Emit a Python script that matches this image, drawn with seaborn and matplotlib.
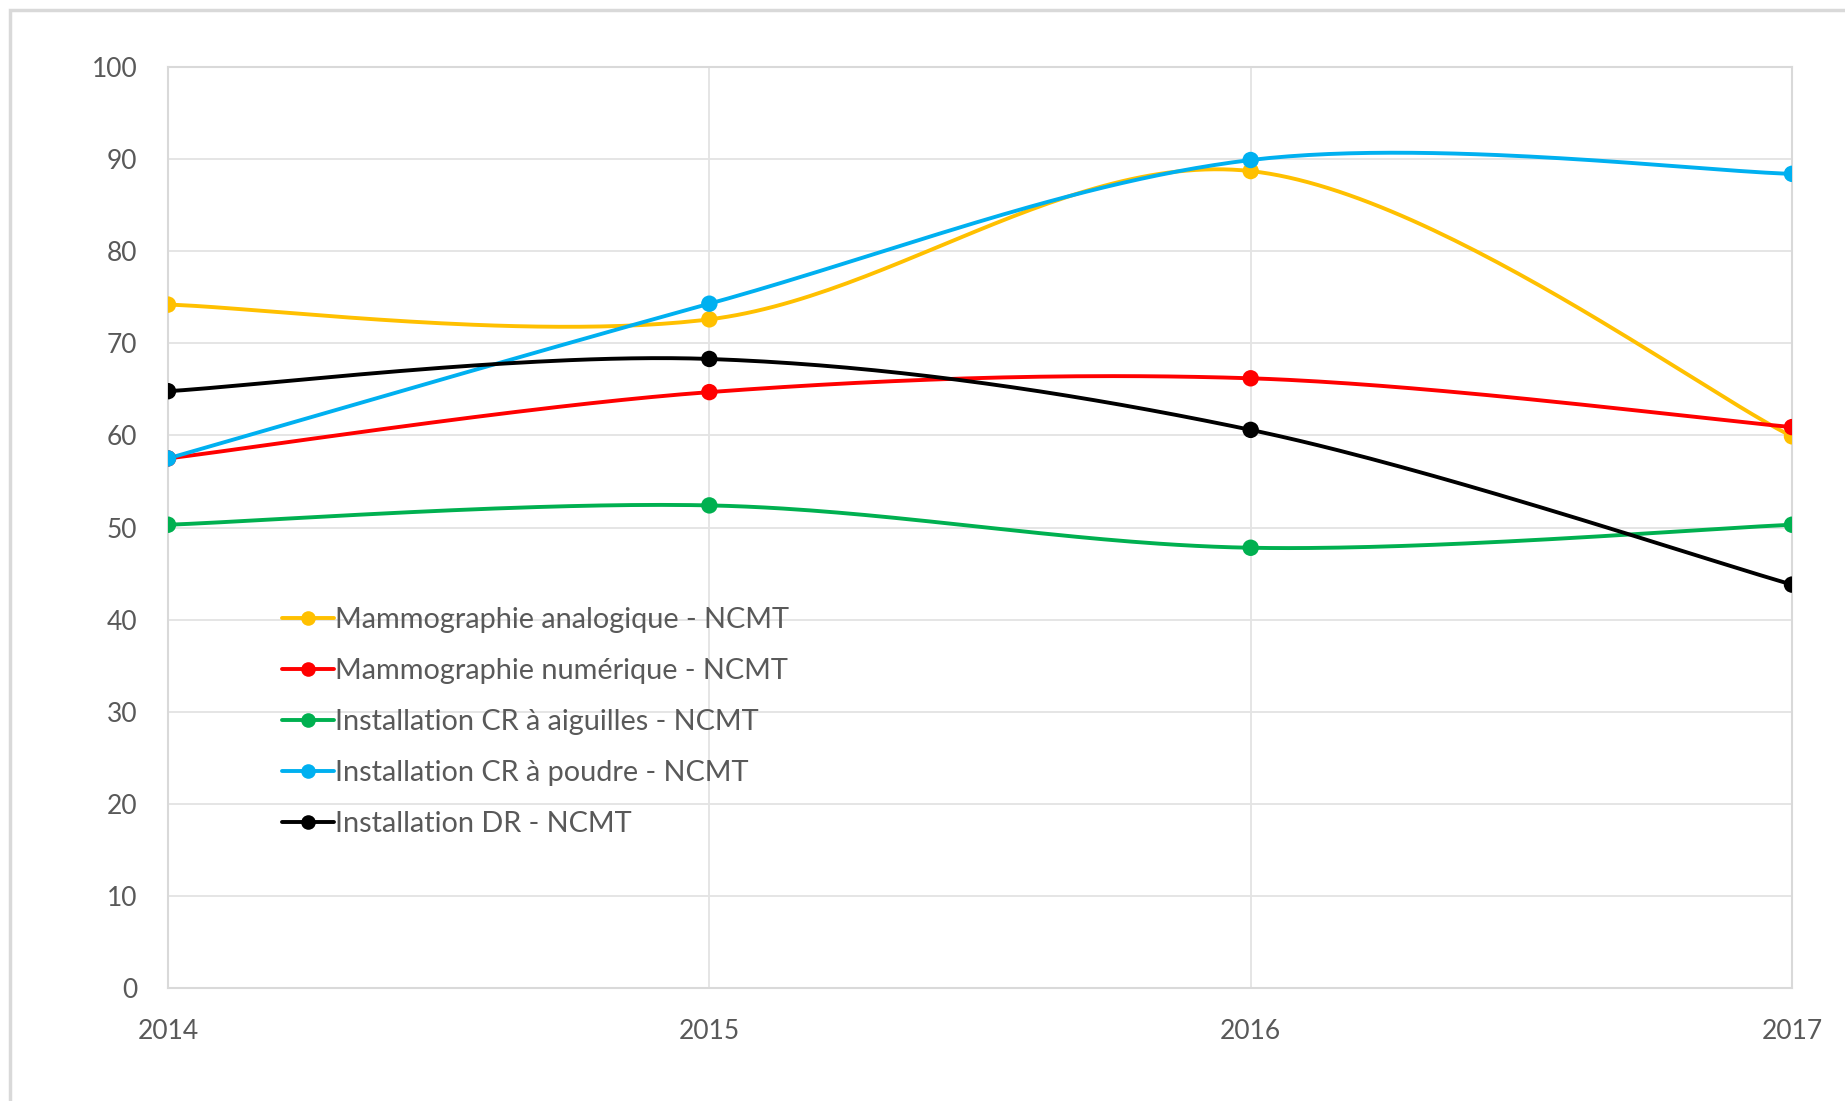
import numpy as np
import pandas as pd
import matplotlib
matplotlib.use("Agg")
import matplotlib.pyplot as plt
from matplotlib.lines import Line2D
from matplotlib.patches import Rectangle
import seaborn as sns

years = [2014, 2015, 2016, 2017]
series_names = [
    "Mammographie analogique - NCMT",
    "Mammographie numérique - NCMT",
    "Installation CR à aiguilles - NCMT",
    "Installation CR à poudre - NCMT",
    "Installation DR - NCMT",
]
mammo_analogique = [74.2, 72.6, 88.7, 59.9]
mammo_numerique = [57.5, 64.7, 66.2, 60.9]
cr_aiguilles = [50.3, 52.4, 47.8, 50.3]
cr_poudre = [57.5, 74.3, 89.9, 88.4]
installation_dr = [64.8, 68.3, 60.6, 43.8]
colors = ["#FFC000", "#FF0000", "#00B050", "#00B0F0", "#000000"]
y_ticks = list(range(0, 101, 10))

all_values = [mammo_analogique, mammo_numerique, cr_aiguilles, cr_poudre, installation_dr]


def smooth_curve(xs, ys, n=60):
    """Bezier smoothing through every point (Catmull-Rom style control points)."""
    xs = np.asarray(xs, float)
    ys = np.asarray(ys, float)
    px = np.concatenate([[xs[0]], xs, [xs[-1]]])
    py = np.concatenate([[ys[0]], ys, [ys[-1]]])
    out_x, out_y = [], []
    t = np.linspace(0, 1, n)
    for i in range(1, len(px) - 2):
        p0 = np.array([px[i - 1], py[i - 1]])
        p1 = np.array([px[i], py[i]])
        p2 = np.array([px[i + 1], py[i + 1]])
        p3 = np.array([px[i + 2], py[i + 2]])
        c1 = p1 + (p2 - p0) / 6.0
        c2 = p2 - (p3 - p1) / 6.0
        b = ((1 - t) ** 3)[:, None] * p1 + (3 * (1 - t) ** 2 * t)[:, None] * c1 \
            + (3 * (1 - t) * t ** 2)[:, None] * c2 + (t ** 3)[:, None] * p2
        if i > 1:
            b = b[1:]
        out_x.extend(b[:, 0])
        out_y.extend(b[:, 1])
    return np.array(out_x), np.array(out_y)


curve_rows = []
point_rows = []
for name, vals in zip(series_names, all_values):
    cx, cy = smooth_curve(years, vals)
    for order, (a, b) in enumerate(zip(cx, cy)):
        curve_rows.append({"serie": name, "annee": a, "valeur": b, "ordre": order})
    for a, b in zip(years, vals):
        point_rows.append({"serie": name, "annee": a, "valeur": b})
curves = pd.DataFrame(curve_rows)
points = pd.DataFrame(point_rows)

sns.set_theme(style="white")
plt.rcParams["font.family"] = ["Lato", "DejaVu Sans"]
palette = dict(zip(series_names, colors))

fig = plt.figure(figsize=(18.45, 11.01), dpi=100)
ax = fig.add_axes([168 / 1845, 1 - 988 / 1101, (1792 - 168) / 1845, (988 - 67) / 1101])

# outer frame of the chart area
fig.patches.append(Rectangle((10 / 1845, -0.05), 1.2, 1 - 10 / 1101 + 0.05,
                             transform=fig.transFigure, fill=False,
                             edgecolor="#d9d9d9", linewidth=2.5, zorder=0))

sns.lineplot(data=curves, x="annee", y="valeur", hue="serie", units="serie",
             estimator=None, sort=False, palette=palette, linewidth=2.8,
             legend=False, ax=ax)
sns.scatterplot(data=points, x="annee", y="valeur", hue="serie", palette=palette,
                s=140, edgecolor="none", legend=False, ax=ax, zorder=5)

ax.set_xlim(2014, 2017)
ax.set_ylim(0, 100)
ax.set_xticks(years)
ax.set_xticklabels([str(y) for y in years])
ax.set_yticks(y_ticks)
ax.set_xlabel("")
ax.set_ylabel("")
ax.grid(True, color="#e3e3e3", linewidth=1.3)
ax.set_axisbelow(True)
for sp in ax.spines.values():
    sp.set_color("#d9d9d9")
    sp.set_linewidth(1.5)
ax.tick_params(axis="both", length=0, labelsize=19, colors="#595959")
ax.tick_params(axis="x", pad=22)
ax.tick_params(axis="y", pad=22)

handles = [Line2D([0], [0], color=c, linewidth=2.8, marker="o", markersize=10.5,
                  markeredgewidth=0) for c in colors]
leg = ax.legend(handles, series_names, loc="upper left",
                bbox_to_anchor=(0.07, 0.414), frameon=False, fontsize=20.8,
                handlelength=1.8, handletextpad=0.05, labelspacing=0.87,
                borderaxespad=0, borderpad=0)
for t in leg.get_texts():
    t.set_color("#595959")

fig.savefig("out.png", dpi=100)
